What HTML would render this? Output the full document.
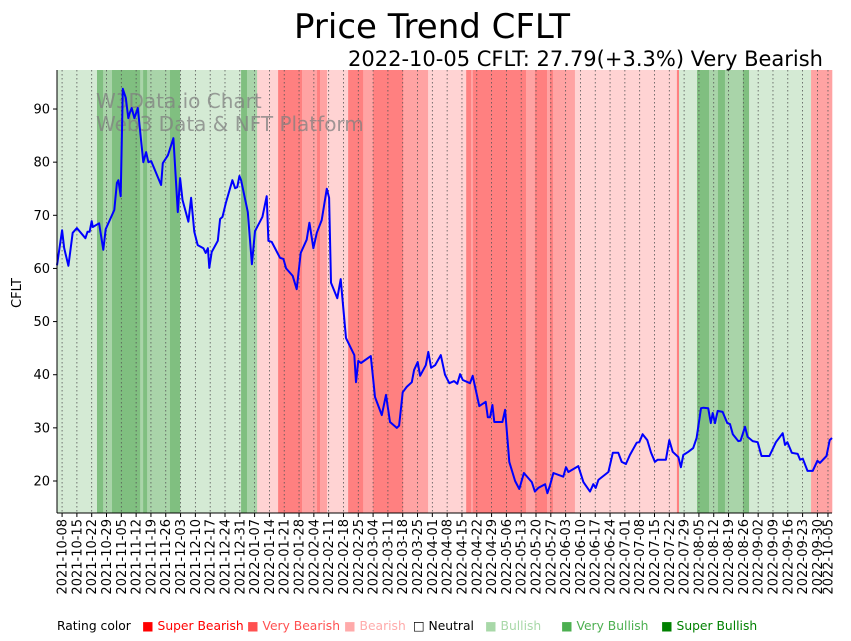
<!DOCTYPE html>
<html><head><meta charset="utf-8"><style>
body{margin:0;background:#fff;}
svg{display:block;font-family:"DejaVu Sans","Liberation Sans",sans-serif;}
</style></head><body>
<svg id="chart" width="851" height="641" viewBox="0 0 851 641" xmlns="http://www.w3.org/2000/svg">
<g id="bands"></g>
<g id="grid"></g>
<text x="96" y="108" font-size="20" fill="#808080" fill-opacity="0.75">W3Data.io Chart</text>
<text x="96" y="131" font-size="20" fill="#808080" fill-opacity="0.75">Web3 Data &amp; NFT Platform</text>
<g id="series"></g>
<g id="axes"></g>
<text x="432" y="38" font-size="34" text-anchor="middle">Price Trend CFLT</text>
<text x="823" y="66" font-size="21" text-anchor="end">2022-10-05 CFLT: 27.79(+3.3%) Very Bearish</text>
<text x="21" y="293" font-size="13" text-anchor="middle" transform="rotate(-90,21,293)">CFLT</text>
<g id="legend" font-size="12.3"></g>
</svg>
<script>
const priceDays=[-2.4,0,1,3,5,7,11,12,13,14,14.5,17.5,19.5,20.6,24.7,25.9,26.6,27.7,28.7,30.1,31.3,32.1,32.9,34.2,35.8,38.4,39.7,40.8,42.1,46.8,47.6,50,52.6,54.7,55.8,56.9,59.7,61,62.5,64.1,66.8,67.9,68.9,69.6,70.7,73.6,74.7,75.8,77.4,80.5,81.8,82.8,83.8,84.6,87.8,89.7,91.2,94.7,96.7,97.5,99.1,103,104.6,105.9,109,110.9,112.8,115.6,116.9,118.8,120.4,122.7,125.1,126.2,127.1,130.1,131.7,134.2,138.1,138.9,140,141.3,145.9,147.9,151.1,153.1,155,158.2,159.3,161,162.9,165.3,166.4,168.1,169.2,171.9,173.1,174.4,176.3,179,181,183,185.3,186.8,188.1,189.4,192.8,194.1,197.2,200.2,201.2,202.3,203.4,204.3,208.1,209.4,211.4,214.1,216.1,218.3,222,223.5,225.1,228.3,229.4,230.6,232.2,236.9,238.2,239.3,244,246.4,249.5,251.1,252.2,253.5,258.2,260.3,262.9,264.5,266.5,268.4,271.6,272.8,274.4,276.6,278.4,280.2,281.5,285.4,287,288.6,291.3,292.5,293.6,296,298.3,299.9,302,303.1,305.4,306.6,307.5,308.6,309.9,312.2,314.4,315.7,317,319.6,320.7,322.8,324,326.4,328.8,330.6,334.3,337.4,340.6,341.7,342.8,344.9,347.7,348.8,350.1,352.3,354.8,357,358.2,361.3,362.8,363.9];
const priceValues=[60.6,67.2,63.8,60.5,66.7,67.6,65.7,66.9,66.9,68.9,67.8,68.5,63.5,67.4,71,76.1,76.6,73.6,93.8,92.1,88.3,89.4,90.2,88.3,90.2,80,81.9,80,80.2,75.7,79.8,81.3,84.5,70.6,77,72.9,68.8,73.3,66.9,64.4,63.8,62.9,63.8,60.1,63.1,65.2,69.3,69.7,72.3,76.6,75.1,75.3,77.4,76.6,70.6,60.8,67,69.7,73.6,65.2,65,62,61.8,60,58.6,56.1,62.9,65.4,68.6,63.8,66.7,69.1,75,73.3,57.3,54.4,58,46.9,43.7,38.6,42.6,42.2,43.5,35.8,32.4,36.2,31.1,30,30.4,36.7,37.7,38.6,40.9,42.4,39.8,41.8,44.3,41.3,41.8,43.7,40,38.4,38.8,38.3,40.1,39,38.4,39.8,34.1,34.9,32,32,34.3,31.1,31.1,33.4,23.6,20,18.5,21.5,19.8,18,18.7,19.4,17.7,19.2,21.5,20.8,22.6,21.7,22.8,19.8,18,19.4,18.7,20.2,21.7,25.3,25.3,23.6,23.2,24.9,27.2,27.3,28.8,27.7,25.3,23.6,24,24,27.7,25.5,24.5,22.6,24.9,25.5,26.2,28.1,33.7,33.8,33.7,30.9,32.8,30.9,33.2,33,30.9,30.7,28.8,27.5,27.6,30.2,28.3,27.5,27.3,24.7,24.7,27.3,29,26.8,27.3,25.3,25.1,24,24.2,21.9,21.9,23.8,23.4,24.7,27.7,28.1];
const bandStarts=[-2.4,16.5,19.4,23.6,36.9,38.3,40.2,51,55.8,84.6,87.4,92.2,102.1,113.4,120.5,121.9,125.2,135.2,142.3,147,161.2,173,191,193.3,194.2,219.3,223.5,229.2,230.6,232,242.4,290.6,291.6,300.1,305.8,310,313.3,321.8,324.7,354];
const bandLevels=[1,3,2,3,2,3,2,3,1,3,2,-1,-3,-2,-3,-2,-1,-3,-2,-3,-2,-1,-3,-2,-3,-2,-3,-2,-3,-2,-1,-3,1,3,2,3,2,3,1,-2];
const yTicks=[20,30,40,50,60,70,80,90];
const legendLabels=["Super Bearish","Very Bearish","Bearish","Neutral","Bullish","Very Bullish","Super Bullish"];

const NS="http://www.w3.org/2000/svg";
const X0=57,X1=832,Y0=70,Y1=513,D0=-2.4,D1=363.9;
function xs(d){return X0+(d-D0)/(D1-D0)*(X1-X0);}
function ys(v){return 481-(v-20)*5.314;}
function mk(tag,attrs,parent){const e=document.createElementNS(NS,tag);for(const k in attrs)e.setAttribute(k,attrs[k]);parent.appendChild(e);return e;}
const bandColor={"-3":"#ff8080","-2":"#ffa3a3","-1":"#ffd3d3","0":"#ffffff","1":"#d4ead4","2":"#a9d4a9","3":"#80bf80"};
const gB=document.getElementById('bands');
for(let i=0;i<bandStarts.length;i++){
  const a=xs(bandStarts[i]),b=xs(i+1<bandStarts.length?bandStarts[i+1]:D1);
  const r=mk('rect',{x:a,y:Y0,width:Math.max(0,b-a)+0.3,height:Y1-Y0,fill:bandColor[bandLevels[i]]},gB);
  
  
}
const gG=document.getElementById('grid'),gA=document.getElementById('axes');
const base=new Date(Date.UTC(2021,9,8));
const tickDays=[];for(let d=0;d<=357;d+=7)tickDays.push(d);tickDays.push(362);
for(const d of tickDays){
  const x=xs(d);
  const l=mk('line',{x1:x,x2:x,y1:Y0,y2:Y1,stroke:'#555',"stroke-width":0.8,"stroke-dasharray":"1.5,2.5"},gG);
  
  
  mk('line',{x1:x,x2:x,y1:Y1,y2:Y1+4,stroke:'#000'},gA);
  const dt=new Date(base.getTime()+d*86400000);
  const s=dt.toISOString().slice(0,10);
  const t=mk('text',{x:x+4.5,y:Y1+6,"font-size":13,"text-anchor":"end",transform:`rotate(-90,${x+4.5},${Y1+6})`},gA);
  t.textContent=s;
  
  
}
for(const v of yTicks){
  const y=ys(v);
  mk('line',{x1:X0-4,x2:X0,y1:y,y2:y,stroke:'#000'},gA);
  const t=mk('text',{x:X0-7,y:y+4.5,"font-size":13,"text-anchor":"end"},gA);
  t.textContent=v;
  
  
}
const sp1=mk('line',{x1:X0,x2:X0,y1:Y0,y2:Y1,stroke:'#000',"stroke-width":1},gA);


const sp2=mk('line',{x1:X0,x2:X1,y1:Y1,y2:Y1,stroke:'#000',"stroke-width":1},gA);


const gS=document.getElementById('series');
const pts=priceDays.map((d,i)=>xs(d).toFixed(1)+','+ys(priceValues[i]).toFixed(1)).join(' ');
const pl=mk('polyline',{points:pts,fill:'none',stroke:'#0000ff',"stroke-width":2,"stroke-linejoin":"round"},gS);


const gL=document.getElementById('legend');
const lt=mk('text',{x:57,y:630},gL);lt.textContent='Rating color';


const legX=[142,247,344,413,485,561,661];
const legCol=["#ff0000","#ff5050","#ffaaaa","#000000","#a8d8a8","#4caf50","#008000"];
legendLabels.forEach((lab,i)=>{
  const t=mk('text',{x:legX[i],y:630,fill:i===3?'#000':legCol[i]},gL);
  t.textContent=(i===3?'\u25A1 ':'\u25A0 ')+lab;
  
  
});
</script>
</body></html>
